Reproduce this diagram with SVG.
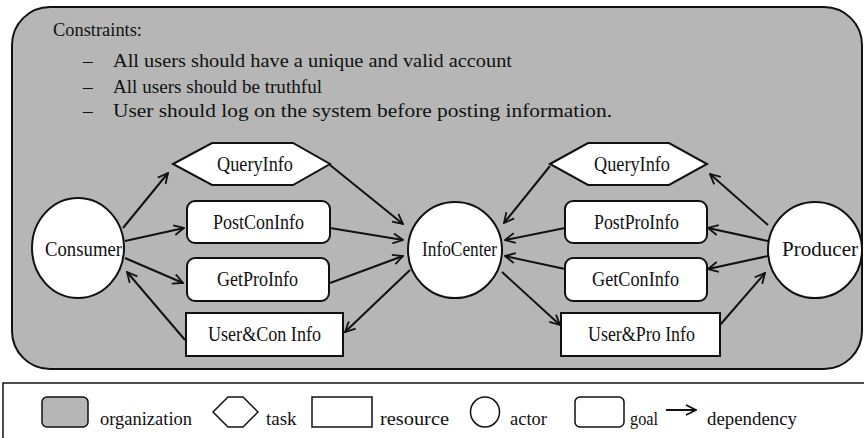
<svg xmlns="http://www.w3.org/2000/svg" width="864" height="438" viewBox="0 0 864 438">
<style>
text{font-family:"Liberation Serif","Times New Roman",serif;font-size:20px;fill:#111}
.c{font-size:19.5px}
.l{font-size:19px}
.node{fill:#fff;stroke:#111;stroke-width:2}
.org{fill:#b6b6b6;stroke:#111;stroke-width:2}
.conn line{stroke:#111;stroke-width:2;marker-end:url(#ah)}
.lg{fill:#fff;stroke:#111;stroke-width:1.5}
</style>
<defs>
<marker id="ah" viewBox="0 0 12 12" refX="11" refY="6" markerWidth="12" markerHeight="12" markerUnits="userSpaceOnUse" orient="auto">
<path d="M1,1 L11,6 L1,11" fill="none" stroke="#111" stroke-width="1.8"/>
</marker>
</defs>
<rect width="864" height="438" fill="#fff"/>
<g id="organization">
<rect class="org" x="12" y="7" width="850" height="362" rx="38"/>
<text class="c" x="53" y="36" textLength="89" lengthAdjust="spacingAndGlyphs">Constraints:</text>
<text class="c" x="83" y="67">–</text>
<text class="c" x="113" y="67" textLength="399" lengthAdjust="spacingAndGlyphs">All users should have a unique and valid account</text>
<text class="c" x="83" y="93">–</text>
<text class="c" x="113" y="93" textLength="209" lengthAdjust="spacingAndGlyphs">All users should be truthful</text>
<text class="c" x="83" y="117">–</text>
<text class="c" x="113" y="117" textLength="499" lengthAdjust="spacingAndGlyphs">User should log on the system before posting information.</text>
</g>
<g class="conn" id="connectors">
<line x1="123" y1="228" x2="168" y2="173"/>
<line x1="125" y1="241" x2="184" y2="228"/>
<line x1="125" y1="258" x2="183" y2="283"/>
<line x1="185" y1="340" x2="127" y2="272"/>
<line x1="330" y1="165" x2="403" y2="224"/>
<line x1="330" y1="228" x2="403" y2="240"/>
<line x1="330" y1="283" x2="403" y2="256"/>
<line x1="410" y1="270" x2="345" y2="332"/>
<line x1="550" y1="166" x2="504" y2="223"/>
<line x1="565" y1="228" x2="505" y2="240"/>
<line x1="565" y1="269" x2="505" y2="256"/>
<line x1="502" y1="272" x2="560" y2="325"/>
<line x1="768" y1="225" x2="710" y2="174"/>
<line x1="768" y1="241" x2="708" y2="228"/>
<line x1="768" y1="256" x2="708" y2="269"/>
<line x1="720" y1="325" x2="765" y2="273"/>
</g>
<g id="consumer">
<ellipse class="node" cx="78" cy="248" rx="46" ry="50"/>
<text x="45" y="256" textLength="77" lengthAdjust="spacingAndGlyphs">Consumer</text>
</g>
<g id="infocenter">
<ellipse class="node" cx="455" cy="250" rx="47" ry="48"/>
<text x="422" y="256" textLength="75" lengthAdjust="spacingAndGlyphs">InfoCenter</text>
</g>
<g id="producer">
<ellipse class="node" cx="815" cy="250" rx="47" ry="48"/>
<text x="782" y="256" textLength="76" lengthAdjust="spacingAndGlyphs">Producer</text>
</g>
<g id="queryinfo-left">
<polygon class="node" points="173,164 212,143 293,143 330,164 293,185 212,185"/>
<text x="217" y="171" textLength="76" lengthAdjust="spacingAndGlyphs">QueryInfo</text>
</g>
<g id="postconinfo">
<rect class="node" x="187" y="201" width="143" height="42" rx="8"/>
<text x="213" y="229" textLength="91" lengthAdjust="spacingAndGlyphs">PostConInfo</text>
</g>
<g id="getproinfo">
<rect class="node" x="187" y="258" width="142" height="43" rx="8"/>
<text x="217" y="286" textLength="81" lengthAdjust="spacingAndGlyphs">GetProInfo</text>
</g>
<g id="usercon">
<rect class="node" x="186" y="313" width="157" height="43"/>
<text x="208" y="341" textLength="113" lengthAdjust="spacingAndGlyphs">User&amp;Con Info</text>
</g>
<g id="queryinfo-right">
<polygon class="node" points="550,164 588,143 669,143 707,164 669,185 588,185"/>
<text x="594" y="171" textLength="76" lengthAdjust="spacingAndGlyphs">QueryInfo</text>
</g>
<g id="postproinfo">
<rect class="node" x="565" y="201" width="142" height="42" rx="8"/>
<text x="594" y="229" textLength="85" lengthAdjust="spacingAndGlyphs">PostProInfo</text>
</g>
<g id="getconinfo">
<rect class="node" x="565" y="258" width="142" height="43" rx="8"/>
<text x="592" y="286" textLength="87" lengthAdjust="spacingAndGlyphs">GetConInfo</text>
</g>
<g id="userpro">
<rect class="node" x="561" y="313" width="159" height="43"/>
<text x="588" y="341" textLength="107" lengthAdjust="spacingAndGlyphs">User&amp;Pro Info</text>
</g>
<g id="legend">
<rect x="3" y="383" width="880" height="80" fill="#fff" stroke="#111" stroke-width="1.5"/>
<rect x="42" y="397" width="46" height="30" rx="5" fill="#b6b6b6" stroke="#111" stroke-width="1.5"/>
<text class="l" x="100" y="425" textLength="92" lengthAdjust="spacingAndGlyphs">organization</text>
<polygon class="lg" points="213,412 228,397 243,397 258,412 243,427 228,427"/>
<text class="l" x="266" y="425">task</text>
<rect class="lg" x="312" y="397" width="60" height="30"/>
<text class="l" x="380" y="425" textLength="69" lengthAdjust="spacingAndGlyphs">resource</text>
<ellipse class="lg" cx="485" cy="412" rx="14.5" ry="15"/>
<text class="l" x="510" y="425" textLength="37" lengthAdjust="spacingAndGlyphs">actor</text>
<rect class="lg" x="575" y="397" width="49" height="30" rx="5"/>
<text class="l" x="630" y="425" textLength="28" lengthAdjust="spacingAndGlyphs">goal</text>
<line x1="666" y1="410" x2="696" y2="410" stroke="#111" stroke-width="2" marker-end="url(#ah)"/>
<text class="l" x="707" y="425" textLength="90" lengthAdjust="spacingAndGlyphs">dependency</text>
</g>
</svg>
